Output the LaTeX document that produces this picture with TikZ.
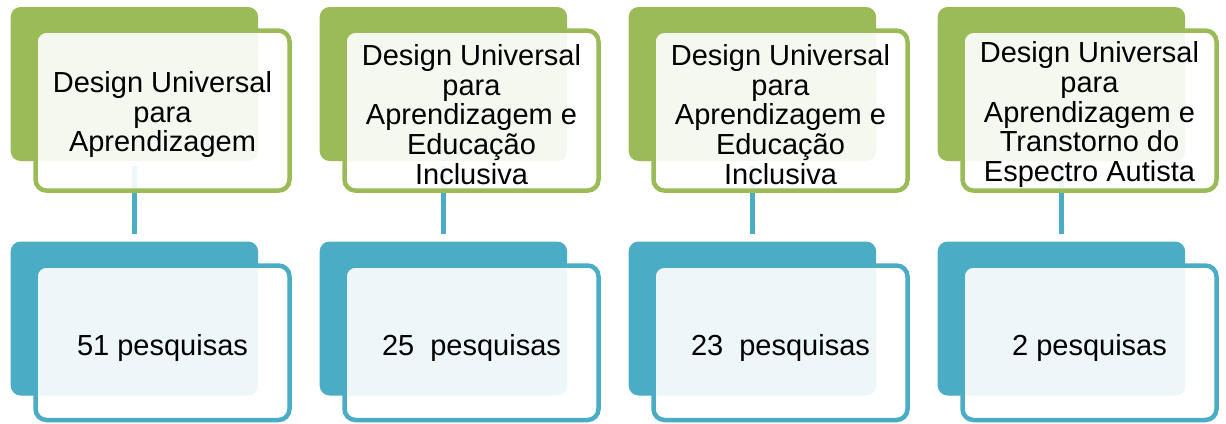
\documentclass[tikz,border=0pt]{standalone}
\usepackage{fontspec}
\setmainfont{Liberation Sans}
\usetikzlibrary{positioning}
\definecolor{udlgreen}{HTML}{9BBB59}
\definecolor{udlblue}{HTML}{4BACC6}

\begin{document}
\begin{tikzpicture}[x=1pt,y=-1pt,
        back/.style={rectangle, rounded corners=10pt, minimum width=247.5pt, minimum height=154pt, inner sep=0pt},
        front/.style={rectangle, rounded corners=11pt, line width=4.5pt, fill=white, fill opacity=0.9, text opacity=1,
            minimum width=254pt, inner sep=0pt},
        words/.style={inner sep=0pt, align=center, font=\fontsize{29}{29.7}\selectfont},
        greenback/.style={back, fill=udlgreen},
        blueback/.style={back, fill=udlblue},
        greenfront/.style={front, draw=udlgreen, minimum height=160pt},
        bluefront/.style={front, draw=udlblue, minimum height=154.5pt},
        link/.style={udlblue, line width=5pt, shorten <=5pt, shorten >=7pt}]
        \useasboundingbox (0,0) rectangle (1226,423);

        % one column per theme
        \foreach \c/\topic/\total in {
            0/{Design Universal\\para\\Aprendizagem}/{51 pesquisas},
            1/{Design Universal\\para\\Aprendizagem e\\Educação\\Inclusiva}/{25\ \ pesquisas},
            2/{Design Universal\\para\\Aprendizagem e\\Educação\\Inclusiva}/{23\ \ pesquisas},
            3/{Design Universal\\para\\Aprendizagem e\\Transtorno do\\Espectro Autista}/{2 pesquisas}}
        {
          % draw back shapes
          \node[greenback] (gb\c) at (134.4+309*\c,84) {};
          \node[blueback] (bb\c) at (134.4+309*\c,318.5) {};

          % draw link
          \draw[link] (gb\c) -- (bb\c);

          % draw front shapes
          \node[greenfront] (gf\c) at (162.5+309*\c,110.6) {};
          \node[bluefront] (bf\c) at (162.5+309*\c,342.75) {};

          % draw texts
          \node[words] (gt\c) at ([yshift=-4pt]gf\c.center) {\topic};
          \node[words, anchor=base] (bt\c) at ([yshift=-12.25pt]bf\c.center) {\total};
        }
\end{tikzpicture}
\end{document}
